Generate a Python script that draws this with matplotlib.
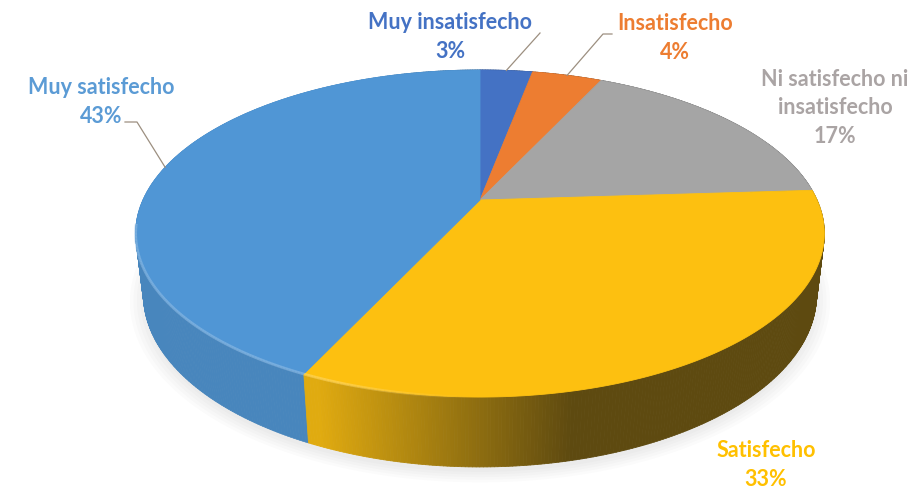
import matplotlib.pyplot as plt
import numpy as np
from matplotlib.collections import PolyCollection, LineCollection
from matplotlib.colors import to_rgb

plt.rcParams['font.family'] = ['Lato', 'DejaVu Sans']

categorias = ['Muy insatisfecho', 'Insatisfecho', 'Ni satisfecho ni insatisfecho',
              'Satisfecho', 'Muy satisfecho']
etiquetas = ['Muy insatisfecho', 'Insatisfecho', 'Ni satisfecho ni\ninsatisfecho',
             'Satisfecho', 'Muy satisfecho']
porcentajes = [3, 4, 17, 33, 43]
colores = ['#4472c4', '#ed7d31', '#a5a5a5', '#fdc010', '#5096d5']
colores_texto = ['#4472c4', '#ed7d31', '#aaa4a4', '#ffc000', '#5b9bd5']

# posicion de las etiquetas (pixeles)
pos_etiquetas = [(450, 37), (675, 38), (835, 108), (766, 465), (101, 102)]

# camara del pastel 3D
cx, cy = 480, 200
foco, dist = 1456, 4.32
phi = np.deg2rad(27.7)
alto = 0.206
s_p, c_p = np.sin(phi), np.cos(phi)


def proyecta(X, Y, Z):
    prof = dist + Y * c_p - Z * s_p
    return cx + foco * X / prof, cy - foco * (Y * s_p + Z * c_p) / prof


def sombra_lado(X):
    return np.clip(0.6 - 0.9 * (X + 0.08), 0.33, 0.88)


fig = plt.figure(figsize=(9.11, 4.97), dpi=100)
ax = fig.add_axes([0, 0, 1, 1])
ax.set_xlim(0, 911)
ax.set_ylim(497, 0)
ax.axis('off')

limites = np.concatenate([[0], np.cumsum(porcentajes)]) * 3.6

# sombra suave bajo el pastel
t = np.deg2rad(np.linspace(0, 360, 361))
for k in range(5):
    r = 1.0 + 0.01 * k
    sx, sy = proyecta(r * np.sin(t), r * np.cos(t), -alto - 0.015)
    ax.fill(sx, sy, color='#808080', alpha=0.03, lw=0, zorder=1)

# paredes laterales
quads, cols, profs = [], [], []
bordes, cols_borde = [], []
for i, color in enumerate(colores):
    ang = np.deg2rad(np.linspace(limites[i], limites[i + 1],
                                 max(int((limites[i + 1] - limites[i]) * 2), 2)))
    base = np.array(to_rgb(color))
    for a0, a1 in zip(ang[:-1], ang[1:]):
        X0, Y0, X1, Y1 = np.sin(a0), np.cos(a0), np.sin(a1), np.cos(a1)
        p1 = proyecta(X0, Y0, 0)
        p2 = proyecta(X1, Y1, 0)
        p3 = proyecta(X1, Y1, -alto)
        p4 = proyecta(X0, Y0, -alto)
        quads.append([p1, p2, p3, p4])
        fac = sombra_lado((X0 + X1) / 2)
        cols.append(np.clip(base * fac + (1 - fac) * 0.06, 0, 1))
        profs.append(dist + (Y0 + Y1) / 2 * c_p + alto / 2 * s_p)
        if (Y0 + Y1) / 2 < -0.15:
            alfa = float(np.clip((fac - 0.55) * 2.0, 0, 0.55))
            bordes.append([p1, p2])
            cols_borde.append((*np.clip(base + (1 - base) * 0.4, 0, 1), alfa))

orden = np.argsort(profs)[::-1]
pc = PolyCollection([quads[j] for j in orden],
                    facecolors=[cols[j] for j in orden],
                    edgecolors=[cols[j] for j in orden], linewidths=0.6, zorder=2)
ax.add_collection(pc)

# cara superior
for i, color in enumerate(colores):
    ang = np.deg2rad(np.linspace(limites[i], limites[i + 1],
                                 max(int((limites[i + 1] - limites[i]) * 2), 2)))
    sx, sy = proyecta(np.sin(ang), np.cos(ang), 0)
    ax.fill(np.r_[cx, sx], np.r_[cy, sy], color=color, lw=0.6, ec=color, zorder=3)

ax.add_collection(LineCollection(bordes, colors=cols_borde, linewidths=2.0, zorder=4))

# etiquetas
for i, (x, y) in enumerate(pos_etiquetas):
    ax.text(x, y, f'{etiquetas[i]}\n{porcentajes[i]}%', ha='center', va='center',
            color=colores_texto[i], fontsize=15.5, fontweight='bold',
            linespacing=1.42, zorder=5)

# lineas guia
medios = np.deg2rad((limites[:-1] + limites[1:]) / 2)
guias = {0: [(540, 33)], 1: [(603, 34), (612, 34)], 4: [(137, 122), (125, 122)]}
for i, pts in guias.items():
    ax0, ay0 = proyecta(np.sin(medios[i]), np.cos(medios[i]), 0)
    xs = [ax0] + [p[0] for p in pts]
    ys = [ay0] + [p[1] for p in pts]
    ax.plot(xs, ys, color='#9c8f80', lw=0.9, zorder=4)

fig.savefig('out.png', dpi=100)
